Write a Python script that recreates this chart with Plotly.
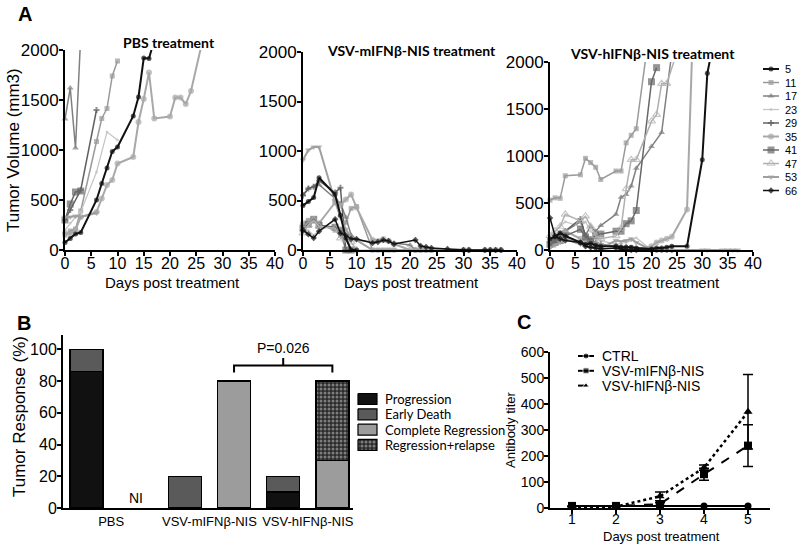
import plotly.graph_objects as go

W, H = 800, 544

# ---- panel A data: one list per mouse, order = mice ----
mice = ['5', '11', '17', '23', '29', '35', '41', '47', '53', '66']

pbs_days = [
    [0, 1, 2, 3, 6, 7, 8, 9, 10, 13, 14, 15, 16, 17],
    [0, 1, 2, 3, 6, 7, 8, 9, 10],
    [0, 1, 2, 3],
    [0, 1, 2, 3, 6, 8, 10],
    [0, 1, 3, 6],
    [0, 1, 2, 3, 6, 7, 8, 9, 10, 13, 14, 15, 16, 17, 20, 21, 22, 23, 24, 26],
    [0, 1, 2, 3],
    None,
    [0, 1, 2, 3, 6],
    None,
]
pbs_vol = [
    [75, 115, 160, 175, 500, 665, 820, 985, 1030, 1340, 1530, 1920, 1915, 2100],
    [150, 190, 210, 390, 1085, 1315, 1415, 1740, 1890],
    [1310, 1620, 1020, 2150],
    [200, 270, 330, 380, 780, 1180, 1100],
    [300, 400, 600, 1400],
    [170, 160, 200, 330, 380, 515, 650, 700, 865, 930, 1280, 1510, 1775, 1315, 1335, 1525, 1525, 1460, 1590, 2050],
    [300, 460, 580, 590],
    None,
    [330, 330, 340, 330, 370],
    None,
]

mifn_days = [
    [0, 1, 2, 3, 6, 7, 8, 9, 10],
    [0, 1, 2, 3, 6, 7, 8, 9, 10, 13, 14, 15, 16, 17, 21, 22, 23, 24],
    [0, 1, 2, 3, 6, 7, 8, 9, 10, 13, 15, 17, 20, 21],
    [0, 1, 2, 3, 6, 7, 8, 9, 10, 13],
    [0, 1, 2, 3, 6, 7, 8],
    [0, 1, 2, 3, 6, 7, 8, 9, 10, 13, 15, 16, 17, 20, 21, 22, 23, 24, 30, 31, 34, 35, 36, 37],
    [0, 1, 2, 3, 6, 7, 8, 9],
    [0, 1, 2, 3, 6, 7, 8, 9, 10],
    [0, 1, 2, 3, 6, 7, 8, 9, 10, 13, 14, 15, 16, 17, 21, 22, 23, 24],
    [0, 1, 2, 3, 6, 7, 8, 9, 10, 13, 14, 15, 16, 17, 21, 22, 23, 24, 27, 30, 31, 34, 35, 36, 37],
]
mifn_vol = [
    [450, 490, 530, 730, 560, 350, 120, 0, 0],
    [250, 300, 290, 260, 200, 150, 280, 420, 440, 0, 0, 0, 0, 0, 0, 0, 0, 0],
    [560, 620, 640, 660, 520, 470, 330, 150, 100, 80, 90, 70, 50, 0],
    [170, 200, 150, 200, 250, 180, 120, 0, 0, 0],
    [550, 620, 640, 700, 580, 630, 0],
    [270, 290, 300, 270, 480, 450, 510, 560, 430, 100, 110, 90, 60, 0, 0, 0, 0, 0, 0, 0, 0, 0, 0, 0],
    [220, 260, 310, 250, 230, 200, 0, 0],
    [170, 250, 300, 240, 220, 120, 100, 80, 0],
    [910, 1010, 1040, 1040, 490, 330, 210, 130, 100, 0, 0, 0, 0, 0, 0, 0, 0, 0],
    [200, 160, 120, 190, 310, 170, 150, 110, 110, 70, 80, 100, 90, 60, 100, 40, 30, 20, 10, 0, 0, 0, 0, 0, 0],
]

hifn_days = [
    [0, 1, 2, 3, 6, 7, 8, 9, 10, 13, 14, 15, 16, 17, 20, 21, 22, 23, 24, 27, 30, 31, 32],
    [0, 1, 2, 3, 6, 7, 8, 9, 10, 13, 14, 15, 16, 17, 19],
    [0, 1, 2, 3, 6, 7, 8, 9, 10, 13, 14, 15, 16, 17, 20, 22, 24],
    [0, 1, 2, 3, 6, 7, 8, 9, 10, 13, 15, 16, 17, 20, 21],
    [0, 1, 2, 3, 6, 7, 8, 9, 10, 13, 14, 15, 16, 17, 20, 21, 22, 23, 24],
    [0, 1, 2, 3, 6, 7, 8, 9, 10, 13, 14, 15, 16, 17, 20, 21, 22, 23, 24, 27, 28],
    [0, 1, 2, 3, 6, 7, 8, 9, 10, 13, 14, 15, 16, 17, 20, 21],
    [0, 1, 2, 3, 6, 7, 8, 9, 10, 13, 14, 15, 16, 17, 20, 21, 22, 23, 25],
    [0, 1, 2, 3, 6, 7, 8, 9, 10, 13, 14, 15, 16, 17, 20, 21, 22, 23, 24, 30, 31, 34, 35, 36, 37],
    [0, 1, 2, 3, 6, 7, 8, 9, 10, 13, 14, 15, 16, 17, 20],
]
hifn_vol = [
    [120, 140, 180, 150, 80, 60, 70, 50, 40, 40, 30, 30, 30, 20, 10, 20, 20, 30, 40, 40, 960, 1880, 2150],
    [530, 555, 550, 790, 800, 975, 930, 880, 750, 840, 840, 1140, 1220, 1290, 2100],
    [50, 100, 150, 200, 300, 160, 250, 200, 260, 380, 560, 590, 680, 870, 1100, 1250, 2100],
    [150, 200, 260, 300, 250, 300, 200, 150, 100, 60, 80, 100, 130, 0, 0],
    [80, 120, 170, 200, 330, 150, 100, 80, 60, 40, 30, 30, 20, 10, 0, 0, 0, 0, 0],
    [100, 150, 180, 200, 120, 100, 80, 60, 50, 40, 30, 20, 20, 10, 40, 80, 100, 120, 140, 430, 2100],
    [60, 80, 100, 150, 220, 140, 110, 150, 170, 200, 200, 280, 310, 420, 1790, 1940],
    [150, 200, 250, 380, 310, 360, 250, 150, 120, 150, 230, 650, 960, 960, 1370, 1440, 1770, 1770, 2100],
    [20, 50, 80, 120, 60, 40, 30, 20, 20, 100, 90, 100, 120, 80, 0, 0, 0, 0, 0, 0, 0, 0, 0, 0, 0],
    [340, 150, 120, 100, 80, 40, 30, 20, 10, 20, 10, 0, 0, 0, 0],
]

# ---- panel B data ----
bar_pos = [0, 1, 2, 3, 4, 5]
group_names = ['PBS', 'VSV-mIFNβ-NIS', 'VSV-hIFNβ-NIS']
progression = [86, None, None, None, 10, None]
early_death = [14, None, 20, None, 10, None]
complete_reg = [None, None, None, 80, None, 30]
reg_relapse = [None, None, None, None, None, 50]

# ---- panel C data ----
c_days = [1, 2, 3, 4, 5]
ctrl = [8, 8, 8, 8, 8]
m_titer = [8, 8, 15, 130, 240]
m_err = [0, 0, 5, 23, 80]
h_titer = [5, 5, 45, 155, 370]
h_err = [0, 0, 17, 10, 143]

# styles
mcolor = ['#111111', '#9a9a9a', '#808080', '#c4c4c4', '#606060', '#a8a8a8', '#686868', '#b0b0b0', '#a0a0a0', '#111111']
msym = ['circle', 'square', 'triangle-up', 'circle', 'cross', 'circle', 'square', 'triangle-up-open', 'triangle-down', 'diamond']
msize = [5, 5, 6, 3, 5, 6, 7, 7, 6, 5]
lwidth = [2, 1.5, 1.5, 1.2, 1.5, 2, 1.5, 1.5, 2, 1.5]

ARIAL = 'Liberation Sans'
CAL = 'Lato'

fig = go.Figure()


def ax(**kw):
    d = dict(showline=True, linecolor='black', linewidth=2, ticks='outside', ticklen=4,
             tickwidth=2, tickcolor='black', showgrid=False, zeroline=False, automargin=False,
             ticklabelstandoff=-3,
             tickfont=dict(family=ARIAL, size=16, color='black'))
    d.update(kw)
    return d


panels = [
    (pbs_days, pbs_vol, 'x', 'y'),
    (mifn_days, mifn_vol, 'x2', 'y2'),
    (hifn_days, hifn_vol, 'x3', 'y3'),
]
order = [1, 2, 3, 4, 5, 6, 7, 8, 9, 0]
for days, vols, xa, ya in panels:
    for k in order:
        if days[k] is None:
            continue
        sizes = [msize[k] if v <= 2000 else 0 for v in vols[k]]
        open_sym = msym[k].endswith('open')
        fig.add_trace(go.Scatter(
            x=days[k], y=vols[k], xaxis=xa, yaxis=ya, mode='lines+markers',
            line=dict(color=mcolor[k], width=lwidth[k]),
            marker=dict(symbol=msym[k], size=sizes, color=mcolor[k],
                        line=dict(color=mcolor[k], width=1.2 if open_sym else 0)),
            cliponaxis=False, showlegend=False, hoverinfo='skip'))

# panel B bars
for vals, col, name in [(progression, '#111111', 'Progression'),
                        (early_death, '#5a5a5a', 'Early Death'),
                        (complete_reg, '#9c9c9c', 'Complete Regression')]:
    fig.add_trace(go.Bar(x=bar_pos, y=vals, width=0.67, xaxis='x4', yaxis='y4',
                         marker=dict(color=col, line=dict(color='black', width=1.5)),
                         showlegend=False, name=name))
fig.add_trace(go.Bar(x=bar_pos, y=reg_relapse, width=0.67, xaxis='x4', yaxis='y4',
                     marker=dict(color='#2a2a2a', line=dict(color='black', width=1.5),
                                 pattern=dict(shape='.', fgcolor='#cfcfcf', bgcolor='#2a2a2a',
                                              size=4, solidity=0.45)),
                     showlegend=False, name='Regression+relapse'))

# panel C lines
fig.add_trace(go.Scatter(x=c_days, y=ctrl, xaxis='x5', yaxis='y5', mode='lines+markers',
                         line=dict(color='black', width=2),
                         marker=dict(symbol='circle', size=7, color='black'),
                         cliponaxis=False, showlegend=False))
fig.add_trace(go.Scatter(x=c_days, y=m_titer, xaxis='x5', yaxis='y5', mode='lines+markers',
                         line=dict(color='black', width=2, dash='dash'),
                         marker=dict(symbol='square', size=8, color='black'),
                         error_y=dict(type='data', array=m_err, color='black', thickness=1.5, width=5),
                         cliponaxis=False, showlegend=False))
fig.add_trace(go.Scatter(x=c_days, y=h_titer, xaxis='x5', yaxis='y5', mode='lines+markers',
                         line=dict(color='black', width=2.5, dash='dot'),
                         marker=dict(symbol='triangle-up', size=8, color='black'),
                         error_y=dict(type='data', array=h_err, color='black', thickness=1.5, width=5),
                         cliponaxis=False, showlegend=False))

# ---- hand-made legends on a full-figure pixel overlay (x6/y6) ----
for i, name in enumerate(mice):
    yy = 69 + 13.5 * i
    fig.add_trace(go.Scatter(x=[763, 771, 779], y=[yy, yy, yy], xaxis='x6', yaxis='y6',
                             mode='lines+markers', line=dict(color=mcolor[i], width=lwidth[i]),
                             marker=dict(symbol=msym[i], size=[0, msize[i], 0], color=mcolor[i],
                                         line=dict(color=mcolor[i], width=1.2 if msym[i].endswith('open') else 0)),
                             showlegend=False, hoverinfo='skip'))
    fig.add_annotation(x=783, y=yy, xref='x6', yref='y6', text=name, showarrow=False,
                       xanchor='left', yanchor='middle', font=dict(family=ARIAL, size=11, color='black'))

legB = [('Progression', '#111111', None), ('Early Death', '#5a5a5a', None),
        ('Complete Regression', '#9c9c9c', None), ('Regression+relapse', '#2a2a2a', '.')]
for i, (name, col, pat) in enumerate(legB):
    yy = 399 + 15.3 * i
    kw = {}
    if pat:
        kw['fillpattern'] = dict(shape=pat, fgcolor='#cfcfcf', bgcolor='#2a2a2a', size=4, solidity=0.45)
    fig.add_trace(go.Scatter(x=[358, 377, 377, 358, 358], y=[yy - 5.5, yy - 5.5, yy + 5.5, yy + 5.5, yy - 5.5],
                             xaxis='x6', yaxis='y6', mode='lines', fill='toself', fillcolor=col,
                             line=dict(color='black', width=1.2), showlegend=False, hoverinfo='skip', **kw))
    fig.add_annotation(x=383, y=yy, xref='x6', yref='y6', text=name, showarrow=False,
                       xanchor='left', yanchor='middle', font=dict(family=CAL, size=13, color='black'))

legC = [('CTRL', 'circle', 'solid'), ('VSV-mIFNβ-NIS', 'square', 'solid'), ('VSV-hIFNβ-NIS', 'triangle-up', 'dash')]
for i, (name, sym, dash) in enumerate(legC):
    yy = 356 + 14.8 * i
    fig.add_trace(go.Scatter(x=[578, 586, 594], y=[yy, yy, yy], xaxis='x6', yaxis='y6',
                             mode='lines+markers', line=dict(color='black', width=2, dash=dash),
                             marker=dict(symbol=sym, size=[0, 6, 0], color='black'),
                             showlegend=False, hoverinfo='skip'))
    fig.add_annotation(x=600, y=yy, xref='x6', yref='y6', text=name, showarrow=False,
                       xanchor='left', yanchor='middle', font=dict(family=ARIAL, size=14, color='black'))

# ---- text ----
def txt(x, y, s, size, fam=ARIAL, bold=False, angle=0, xanchor='center'):
    fig.add_annotation(x=x, y=y, xref='x6', yref='y6', text=f'<b>{s}</b>' if bold else s,
                       showarrow=False, textangle=angle, xanchor=xanchor, yanchor='middle',
                       font=dict(family=fam, size=size, color='black'))

txt(25, 14, 'A', 20, bold=True)
txt(24, 323, 'B', 20, bold=True)
txt(524, 322, 'C', 20, bold=True)
txt(169, 42, 'PBS treatment', 14, CAL, bold=True)
txt(411, 50, 'VSV-mIFNβ-NIS treatment', 14, CAL, bold=True)
txt(652, 53, 'VSV-hIFNβ-NIS treatment', 14, CAL, bold=True)
txt(172, 282, 'Days post treatment', 15)
txt(411, 282, 'Days post treatment', 15)
txt(652, 282, 'Days post treatment', 15)
txt(13, 150, 'Tumor Volume (mm3)', 17, angle=-90)
txt(19, 417, 'Tumor Response (%)', 17, angle=-90)
txt(510, 430, 'Antibody titer', 13, angle=-90)
txt(661, 536, 'Days post treatment', 13)

# bracket and labels in panel B
fig.add_shape(type='path', xref='x4', yref='y4',
              path='M 3,85.4 L 3,89.8 L 5,89.8 L 5,85.4 M 4,89.8 L 4,94.5',
              line=dict(color='black', width=2))
fig.add_annotation(x=4, y=101, xref='x4', yref='y4', text='P=0.026', showarrow=False,
                   font=dict(family=ARIAL, size=14, color='black'))
fig.add_annotation(x=1, y=6, xref='x4', yref='y4', text='NI', showarrow=False,
                   font=dict(family=ARIAL, size=14, color='black'))

fig.update_layout(
    width=W, height=H, margin=dict(l=0, r=0, t=0, b=0, autoexpand=False),
    paper_bgcolor='white', plot_bgcolor='rgba(0,0,0,0)', barmode='stack', showlegend=False,
    xaxis=ax(domain=[65 / W, 275 / W], range=[0, 40], dtick=5, anchor='y', ticklabelstandoff=-6),
    yaxis=ax(domain=[1 - 250 / H, 1 - 50 / H], range=[0, 2000], dtick=500, anchor='x',
             tickfont=dict(family=ARIAL, size=17, color='black')),
    xaxis2=ax(domain=[303 / W, 517 / W], range=[0, 40], dtick=5, anchor='y2', ticklabelstandoff=-6),
    yaxis2=ax(domain=[1 - 250 / H, 1 - 52 / H], range=[0, 2000], dtick=500, anchor='x2',
              tickfont=dict(family=ARIAL, size=17, color='black')),
    xaxis3=ax(domain=[550 / W, 753 / W], range=[0, 40], dtick=5, anchor='y3', ticklabelstandoff=-6),
    yaxis3=ax(domain=[1 - 250 / H, 1 - 62 / H], range=[0, 2000], dtick=500, anchor='x3',
              tickfont=dict(family=ARIAL, size=17, color='black')),
    xaxis4=ax(domain=[63 / W, 353 / W], range=[-0.48, 5.42], anchor='y4', ticks='', tickangle=0,
              tickvals=[0.5, 2.5, 4.5], ticktext=group_names, ticklabelstandoff=0,
              tickfont=dict(family=ARIAL, size=13, color='black')),
    yaxis4=ax(domain=[1 - 508 / H, 1 - 335 / H], range=[0, 109], tickvals=[0, 20, 40, 60, 80, 100],
              anchor='x4', tickfont=dict(family=ARIAL, size=16, color='black')),
    xaxis5=ax(domain=[550 / W, 770 / W], range=[0.5, 5.5], tickvals=c_days, anchor='y5',
              ticklabelstandoff=-7, tickfont=dict(family=ARIAL, size=14, color='black')),
    yaxis5=ax(domain=[1 - 508 / H, 1 - 352 / H], range=[0, 600], dtick=100, anchor='x5',
              tickfont=dict(family=ARIAL, size=14, color='black')),
    xaxis6=dict(domain=[0, 1], range=[0, W], visible=False, anchor='y6', fixedrange=True),
    yaxis6=dict(domain=[0, 1], range=[H, 0], visible=False, anchor='x6', fixedrange=True),
)

# the page body has an 8px default margin; drop it so the 800x544 figure fills the window
fig.write_html('out.html', config={'displayModeBar': False},
               post_script="document.body.style.margin='0px';")
